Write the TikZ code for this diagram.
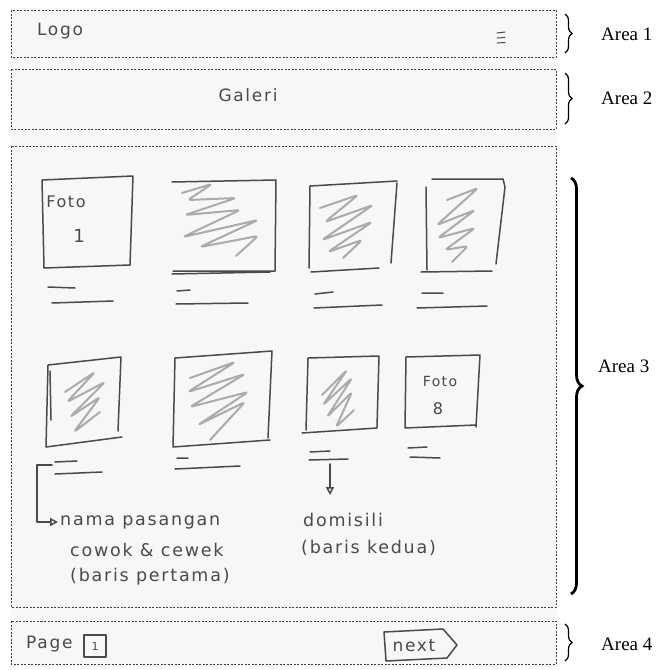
\documentclass[tikz,border=0pt]{standalone}
\usepackage{fontspec}
\setmainfont{Liberation Serif}
\newfontfamily\hand[LetterSpace=10]{DejaVu Sans}
\usetikzlibrary{decorations.pathreplacing,arrows.meta}
\definecolor{paper}{HTML}{F6F7F9}
\definecolor{pencil}{HTML}{4A4A4A}
\definecolor{lightpencil}{HTML}{ABABAB}
\tikzset{
  areabox/.style={draw=black!75, dash pattern=on 2pt off 1.5pt, line width=0.6pt},
  sketch/.style={draw=pencil, line width=1.5pt, line cap=round, line join=round},
  scrib/.style={draw=lightpencil, line width=2pt, line cap=round, line join=round, rounded corners=3pt},
  handtxt/.style={text=pencil, font=\hand\fontsize{15}{17}\selectfont, inner sep=0pt},
  handbig/.style={text=pencil, font=\hand\fontsize{17.5}{19}\selectfont, inner sep=0pt, anchor=west},
  arealabel/.style={font=\fontsize{19}{22}\selectfont, anchor=west, inner sep=0pt},
  bracesmall/.style={decorate, decoration={brace, amplitude=7pt}, line width=1.2pt},
  bracebig/.style={decorate, decoration={brace, amplitude=11pt}, line width=2.8pt},
  pointer/.style={sketch, -{Triangle[open, length=8pt, width=8pt]}},
}
\begin{document}
\begin{tikzpicture}[x=1pt,y=-1pt]
\useasboundingbox (0,0) rectangle (667,670);
\fill[white] (0,0) rectangle (667,670);
\fill[paper] (10,8) rectangle (557,667);

% dashed areas
\draw[areabox] (11,10) rectangle (556,57);
\draw[areabox] (11,69) rectangle (556,129);
\draw[areabox] (11,146) rectangle (556,607);
\draw[areabox] (11,621) rectangle (556,664);

% braces and labels
\draw[bracesmall] (565,14) -- (565,53);
\node[arealabel] (a1) at (601,34) {Area 1};
\draw[bracesmall] (565,73) -- (565,124);
\node[arealabel] (a2) at (601,98) {Area 2};
\draw[bracebig] (571,178) -- (571,594);
\node[arealabel] (a3) at (598,366) {Area 3};
\draw[bracesmall] (565,624) -- (565,661);
\node[arealabel] (a4) at (601,644) {Area 4};

% area 1
\node[handtxt, font=\hand\fontsize{17}{19}\selectfont] (logo) at (60,31) {Logo};
\draw[sketch, line width=1pt] (497,33) -- (505,32) (497,38) -- (505,37.5) (497,43) -- (505,42.5);

% area 2
\node[handtxt, font=\hand\fontsize{17}{19}\selectfont] (galeri) at (248,95) {Galeri};

% row 1 photos
\draw[sketch] (42,180) -- (133,176) -- (130,265) -- (44,268) -- cycle;
\node[handtxt, font=\hand\fontsize{16}{18}\selectfont] (f1) at (66,202) {Foto};
\node[handtxt, font=\hand\fontsize{18}{20}\selectfont] (n1) at (79,236) {1};
\draw[sketch] (48,287) -- (75,288) (52,303) -- (113,301);

\draw[sketch] (172,182) -- (276,180) -- (275,271) -- (173,271) (172,274) -- (270,272);
\draw[scrib] (182,193)--(212,184)--(188,200)--(236,198)--(185,215)--(240,210)--(183,237)--(258,220)--(200,247)--(258,236)--(236,256);
\draw[sketch] (177,291) -- (190,290) (176,304) -- (248,303);

\draw[sketch] (310,186) -- (397,181) (310,186) -- (309,268) (397,183) -- (391,263) (311,272) -- (379,268);
\draw[scrib] (320,208)--(358,195)--(325,222)--(373,205)--(322,240)--(372,222)--(328,252)--(362,240)--(343,258);
\draw[sketch] (315,294) -- (333,292) (314,308) -- (382,305);

\draw[sketch] (426,187) -- (427,270) (432,179) -- (503,179) -- (505,187) -- (496,264) (421,272) -- (492,271);
\draw[scrib] (447,200)--(478,188)--(437,225)--(475,210)--(438,238)--(475,228)--(445,250)--(468,246)--(452,262);
\draw[sketch] (422,293) -- (443,293) (417,308) -- (487,306);

% row 2 photos
\draw[sketch] (48,365) -- (121,357) -- (118,431) (48,365) -- (46,447) -- (122,437) (50,371) -- (51,420);
\draw[scrib] (65,392)--(95,372)--(67,402)--(105,382)--(70,417)--(100,397)--(74,432)--(100,412);
\draw[sketch] (55,462) -- (77,461) (55,474) -- (102,472);

\draw[sketch] (175,358) -- (272,351) -- (268,438) (175,358) -- (173,447) -- (270,440);
\draw[scrib] (190,378)--(235,362)--(188,392)--(245,374)--(190,407)--(248,392)--(198,425)--(245,402)--(210,440);
\draw[sketch] (177,458) -- (188,458) (175,469) -- (240,466);

\draw[sketch] (308,358) -- (379,356) -- (377,427) (308,358) -- (306,430) (302,433) -- (377,428);
\draw[scrib] (322,395)--(347,370)--(323,405)--(352,378)--(327,417)--(352,392)--(336,427)--(354,410);
\draw[sketch] (310,452) -- (330,451) (309,460) -- (348,459);

\draw[sketch] (406,357) -- (480,355) -- (476,427) (406,357) -- (405,428) -- (476,425);
\node[handtxt, font=\hand\fontsize{14}{16}\selectfont] (f8) at (440,381) {Foto};
\node[handtxt, font=\hand\fontsize{16}{18}\selectfont] (n8) at (438,409) {8};
\draw[sketch] (408,448) -- (427,447) (410,457) -- (440,458);

% annotations
\node[handbig] (nama) at (60,522) {nama pasangan};
\node[handbig] (cowok) at (70,550) {cowok \& cewek};
\node[handbig] (baris1) at (70,577) {(baris pertama)};
\coordinate (b5) at (52,465);
\draw[pointer] (b5) -- (37,465) |- ([xshift=-2pt]nama.west);

\node[handbig] (domisili) at (303,520) {domisili};
\node[handbig] (baris2) at (301,548) {(baris kedua)};
\coordinate (l7) at (330,464);
\draw[pointer] (l7) -- ([yshift=18pt]l7 |- domisili.north);

% area 4
\node[handtxt, font=\hand\fontsize{17}{19}\selectfont, anchor=west] (page) at (26,644) {Page};
\draw[sketch] (84,635) rectangle (106,657);
\node[handtxt, font=\hand\fontsize{11}{13}\selectfont] (p1) at (95,646) {1};
\draw[sketch] (384,632) -- (443,629) -- (457,645) -- (447,658) -- (386,661) -- cycle;
\node[handtxt, font=\hand\fontsize{17}{19}\selectfont] (next) at (414,646) {next};
\end{tikzpicture}
\end{document}
